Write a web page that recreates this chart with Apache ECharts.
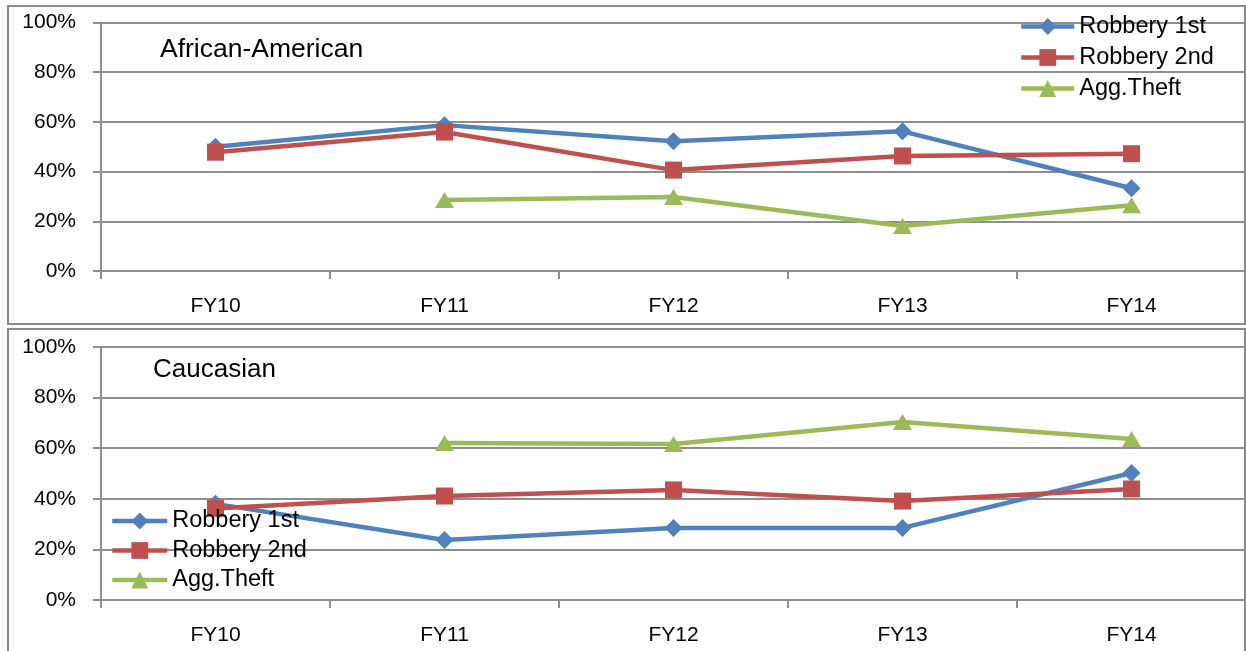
<!DOCTYPE html>
<html>
<head>
<meta charset="utf-8">
<script src="https://cdn.jsdelivr.net/npm/echarts@6/dist/echarts.min.js"></script>
<style>html,body{margin:0;padding:0;background:#fff}#c{width:1246px;height:651px}</style>
</head>
<body>
<div id="c"></div>
<script>
const categories = ['FY10', 'FY11', 'FY12', 'FY13', 'FY14'];
const seriesNames = ['Robbery 1st', 'Robbery 2nd', 'Agg.Theft'];
const panelTitles = ['African-American', 'Caucasian'];
// African-American (top panel), percent
const aaRobbery1 = [50, 58.7, 52.2, 56.2, 33.3];
const aaRobbery2 = [47.8, 55.9, 40.6, 46.3, 47.2];
const aaAggTheft = [null, 28.6, 29.8, 18.1, 26.5];
// Caucasian (bottom panel), percent
const caRobbery1 = [38, 23.7, 28.5, 28.5, 50.2];
const caRobbery2 = [36.2, 41.1, 43.5, 39.1, 43.9];
const caAggTheft = [null, 62.1, 61.7, 70.4, 63.6];
const yTicks = [0, 20, 40, 60, 80, 100];

const FONT = 'Liberation Sans';
const colors = ['#4F81BD', '#C0504D', '#9BBB59'];
const symbols = ['diamond', 'rect', 'triangle'];
const symbolSizes = [[18, 18], [17, 17], [19, 16]];
const gridColor = '#8e8e8e';

function mkSeries(name, data, idx, axisIdx) {
  return {
    name: name, type: 'line', data: data,
    xAxisIndex: axisIdx, yAxisIndex: axisIdx,
    symbol: symbols[idx], symbolSize: symbolSizes[idx], showSymbol: true,
    lineStyle: { color: colors[idx], width: 4.5 },
    itemStyle: { color: colors[idx] },
    emphasis: { disabled: true },
    animation: false
  };
}

function xAx(gi) {
  return {
    type: 'category', data: categories, gridIndex: gi, boundaryGap: true,
    axisLine: { lineStyle: { color: gridColor, width: 2 } },
    axisTick: { show: true, length: 8, inside: false, lineStyle: { color: gridColor, width: 2 } },
    axisLabel: { color: '#000', fontFamily: FONT, fontSize: 21, margin: 25 }
  };
}
function yAx(gi) {
  return {
    type: 'value', gridIndex: gi, min: yTicks[0], max: yTicks[yTicks.length - 1], interval: 20,
    axisLine: { show: true, lineStyle: { color: gridColor, width: 2 } },
    axisTick: { show: true, length: 8, lineStyle: { color: gridColor, width: 2 } },
    splitLine: { show: true, lineStyle: { color: gridColor, width: 2 } },
    axisLabel: { color: '#000', fontFamily: FONT, fontSize: 21, margin: 25, formatter: '{value}%' }
  };
}

function mkLegend(left, top, itemWidth, gap) {
  return {
    orient: 'vertical', left: left, top: top, padding: 0,
    itemWidth: itemWidth, itemHeight: 21, itemGap: gap,
    data: seriesNames, selectedMode: false,
    lineStyle: { width: 4.5 },
    textStyle: { color: '#000', fontFamily: FONT, fontSize: 23.5, lineHeight: 24 }
  };
}

const chart = echarts.init(document.getElementById('c'), null, { renderer: 'canvas' });
chart.setOption({
  backgroundColor: '#fff',
  animation: false,
  grid: [
    { left: 101, right: 0, top: 22.5, height: 248.5 },
    { left: 101, right: 0, top: 347, height: 253 }
  ],
  xAxis: [xAx(0), xAx(1)],
  yAxis: [yAx(0), yAx(1)],
  legend: [
    mkLegend(1019, 14.5, 53, 7),
    mkLegend(110, 509, 55, 5.5)
  ],
  graphic: [
    { type: 'rect', shape: { x: 8, y: 6, width: 1237, height: 318 }, style: { fill: 'none', stroke: '#8a8a8a', lineWidth: 2 }, z: 0, silent: true },
    { type: 'rect', shape: { x: 8, y: 329, width: 1237, height: 340 }, style: { fill: 'none', stroke: '#8a8a8a', lineWidth: 2 }, z: 0, silent: true },
    { type: 'text', left: 160, top: 36, style: { text: panelTitles[0], fill: '#000', font: '26.5px "Liberation Sans"' }, z: 10, silent: true },
    { type: 'text', left: 153, top: 357, style: { text: panelTitles[1], fill: '#000', font: '26px "Liberation Sans"' }, z: 10, silent: true }
  ],
  series: [
    mkSeries(seriesNames[0], aaRobbery1, 0, 0),
    mkSeries(seriesNames[1], aaRobbery2, 1, 0),
    mkSeries(seriesNames[2], aaAggTheft, 2, 0),
    mkSeries(seriesNames[0], caRobbery1, 0, 1),
    mkSeries(seriesNames[1], caRobbery2, 1, 1),
    mkSeries(seriesNames[2], caAggTheft, 2, 1)
  ]
});
</script>
</body>
</html>
